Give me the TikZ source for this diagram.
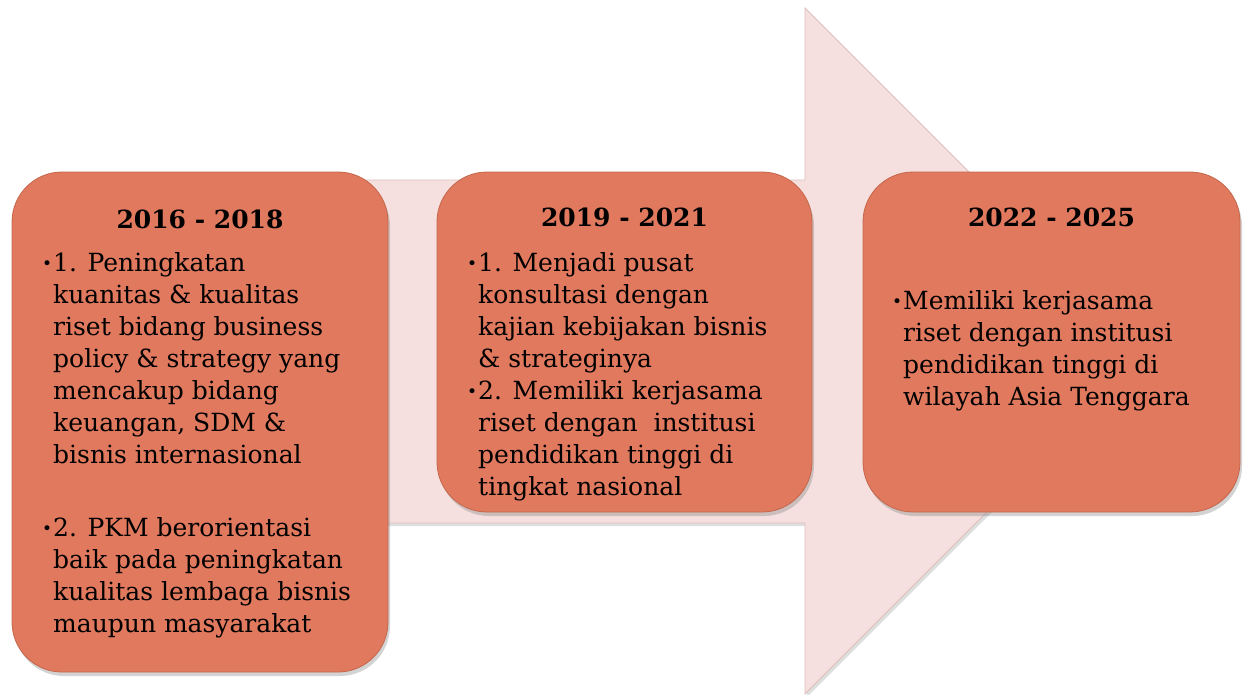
\documentclass[tikz,border=0pt]{standalone}
\usepackage{fontspec}
\setmainfont{DejaVu Serif}
\usetikzlibrary{shadows}
\definecolor{boxfill}{HTML}{E0795D}
\definecolor{boxline}{HTML}{C4664C}
\definecolor{arrowfill}{HTML}{F6E0DF}
\definecolor{arrowline}{HTML}{D9BEBC}
\tikzset{
  stagebox/.style={rounded corners=50pt, fill=boxfill, draw=boxline, line width=0.8pt,
    drop shadow={opacity=0.35, shadow xshift=2pt, shadow yshift=-4pt}},
  yeartext/.style={font=\fontsize{25}{32}\selectfont\bfseries, anchor=base},
  itemtext/.style={font=\fontsize{25}{32}\selectfont, align=left, anchor=base west, inner sep=0pt},
}
\newcommand{\bul}{\llap{\fontsize{17}{17}\selectfont\raisebox{2pt}{•}\hspace{1pt}}}
\begin{document}
\begin{tikzpicture}[x=1pt,y=-1pt]
\useasboundingbox (0,0) rectangle (1249,694);
% big arrow
\draw[fill=arrowfill, draw=arrowline, line width=0.8pt,
  drop shadow={opacity=0.25, shadow xshift=2pt, shadow yshift=-3pt}]
  (300,180) -- (805,180) -- (805,8) -- (1148,351) -- (805,694) -- (805,523) -- (300,523) -- cycle;
% boxes
\path[stagebox] (12,172) rectangle (388,672);
\path[stagebox] (437,172) rectangle (812,512);
\path[stagebox] (863,172) rectangle (1240,512);
\node[minimum width=376pt, minimum height=500pt] (b1) at (200,422) {};
\node[minimum width=375pt, minimum height=340pt] (b2) at (624.5,342) {};
\node[minimum width=377pt, minimum height=340pt] (b3) at (1051.5,342) {};
% titles
\node[yeartext] (y1) at (200,228) {2016 - 2018};
\node[yeartext] (y2) at (624.5,226) {2019 - 2021};
\node[yeartext] (y3) at (1051.5,226) {2022 - 2025};
% items (anchor = baseline of last line)
\node[itemtext] (i1a) at (53,463) {\bul1. Peningkatan\\kuanitas \& kualitas\\riset bidang business\\policy \& strategy yang\\mencakup bidang\\keuangan, SDM \&\\bisnis internasional};
\node[itemtext] (i1b) at (53,632) {\bul2. PKM berorientasi\\baik pada peningkatan\\kualitas lembaga bisnis\\maupun masyarakat};
\node[itemtext] (i2) at (478,495) {\bul1. Menjadi pusat\\konsultasi dengan\\kajian kebijakan bisnis\\\& strateginya\\\bul2. Memiliki kerjasama\\riset dengan\ \ institusi\\pendidikan tinggi di\\tingkat nasional};
\node[itemtext] (i3) at (903,405) {\bul Memiliki kerjasama\\riset dengan institusi\\pendidikan tinggi di\\wilayah Asia Tenggara};
\end{tikzpicture}
\end{document}
